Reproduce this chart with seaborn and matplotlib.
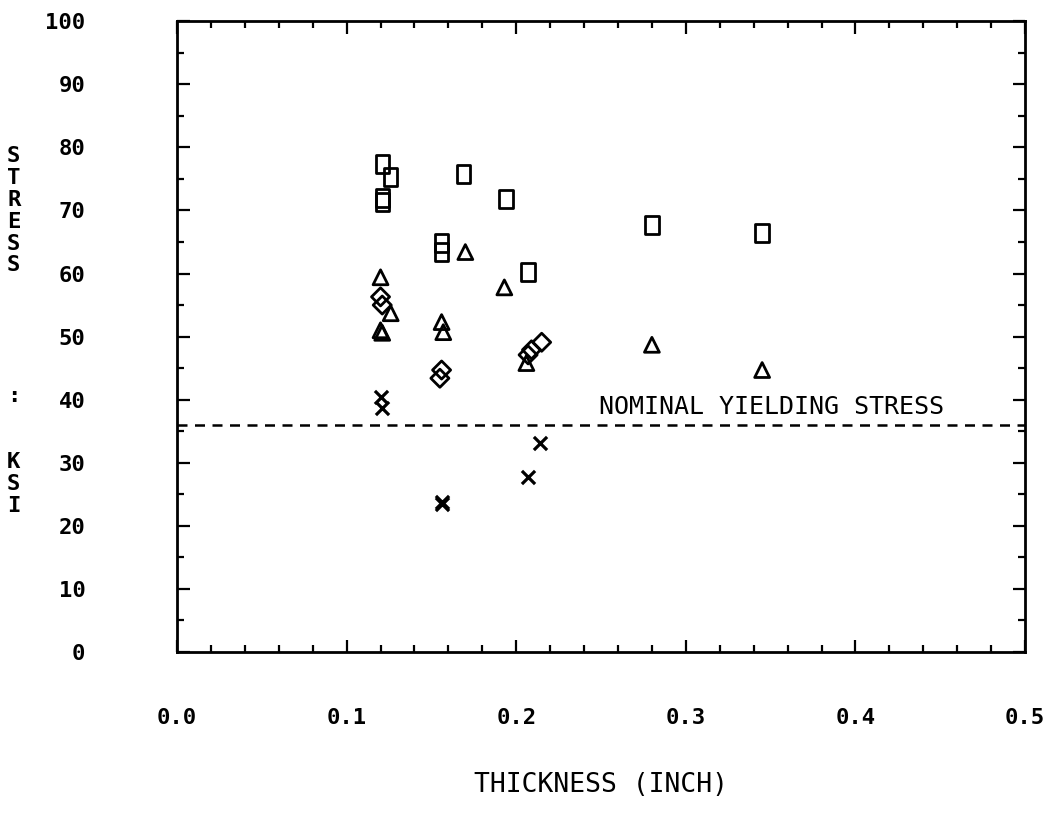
import numpy as np
import pandas as pd
import seaborn as sns
import matplotlib.pyplot as plt
from matplotlib.path import Path
from matplotlib.ticker import MultipleLocator

# data: thickness (inch) and stress (ksi)
square_x = [0.121, 0.126, 0.121, 0.121, 0.156, 0.156, 0.169, 0.194, 0.207, 0.280, 0.345]
square_y = [77.3, 75.3, 71.3, 72.0, 64.8, 63.4, 75.8, 71.8, 60.2, 67.7, 66.4]

triangle_x = [0.120, 0.126, 0.120, 0.121, 0.156, 0.157, 0.170, 0.193, 0.206, 0.280, 0.345]
triangle_y = [59.4, 53.7, 51.0, 50.6, 52.3, 50.7, 63.4, 57.8, 45.8, 48.7, 44.7]

diamond_x = [0.120, 0.121, 0.156, 0.155, 0.207, 0.209, 0.215]
diamond_y = [56.3, 55.0, 44.7, 43.4, 47.1, 47.9, 49.1]

cross_x = [0.120, 0.121, 0.156, 0.156, 0.207, 0.214]
cross_y = [40.4, 38.7, 23.4, 23.8, 27.7, 33.1]

yield_stress = 36
x_ticks = [0.0, 0.1, 0.2, 0.3, 0.4, 0.5]
y_ticks = [0, 10, 20, 30, 40, 50, 60, 70, 80, 90, 100]

sns.set_style('white')
plt.rcParams['font.family'] = ['DejaVu Sans Mono', 'DejaVu Sans']
plt.rcParams['text.color'] = 'black'
plt.rcParams['xtick.color'] = 'black'
plt.rcParams['ytick.color'] = 'black'
plt.rcParams['axes.labelcolor'] = 'black'

# tall open rectangle like the plotter's square symbol
rect = Path([(-0.37, -0.5), (0.37, -0.5), (0.37, 0.5), (-0.37, 0.5), (-0.37, -0.5)],
            [Path.MOVETO, Path.LINETO, Path.LINETO, Path.LINETO, Path.CLOSEPOLY])

fig = plt.figure(figsize=(10.6, 8.15), dpi=100)
ax = fig.add_axes([0.167, 0.2, 0.8, 0.774])

series = [
    (square_x, square_y, rect, 170),
    (triangle_x, triangle_y, '^', 115),
    (diamond_x, diamond_y, 'D', 85),
]
for xs, ys, mk, size in series:
    df = pd.DataFrame({'thickness': xs, 'stress': ys})
    sns.scatterplot(data=df, x='thickness', y='stress', marker=mk, s=size,
                    facecolors='none', edgecolor='black', linewidth=2.0, ax=ax)

df_x = pd.DataFrame({'thickness': cross_x, 'stress': cross_y})
sns.scatterplot(data=df_x, x='thickness', y='stress', marker='x', s=90,
                color='black', linewidth=2.3, ax=ax)

ax.axhline(yield_stress, color='black', linestyle=(0, (4, 3)), linewidth=1.8)
ax.text(0.249, 38.8, 'NOMINAL YIELDING STRESS', fontsize=18, va='center', ha='left')

ax.set_xlim(0, 0.5)
ax.set_ylim(0, 100)
ax.set_xticks(x_ticks)
ax.set_xticklabels([f'{t:.1f}' for t in x_ticks], fontweight='bold')
ax.set_yticks(y_ticks)
ax.set_yticklabels([str(t) for t in y_ticks], fontweight='bold')
ax.xaxis.set_minor_locator(MultipleLocator(0.02))
ax.yaxis.set_minor_locator(MultipleLocator(5))
ax.tick_params(which='both', direction='in', top=True, right=True, bottom=True, left=True,
               color='black', width=1.6)
ax.tick_params(which='major', length=9)
ax.tick_params(which='minor', length=5)
ax.tick_params(axis='x', which='major', pad=40, labelsize=16)
ax.tick_params(axis='y', which='major', pad=66, labelsize=16)
for sp in ax.spines.values():
    sp.set_color('black')
    sp.set_linewidth(2)

ax.set_xlabel('THICKNESS (INCH)', fontsize=19, labelpad=32)
ax.set_ylabel('')
fig.text(0.013, 0.594, 'S\nT\nR\nE\nS\nS\n\n\n\n\n\n:\n\n\nK\nS\nI',
         fontsize=16, fontweight='bold', ha='center', va='center', linespacing=1.115)

fig.savefig('out.png', dpi=100)
